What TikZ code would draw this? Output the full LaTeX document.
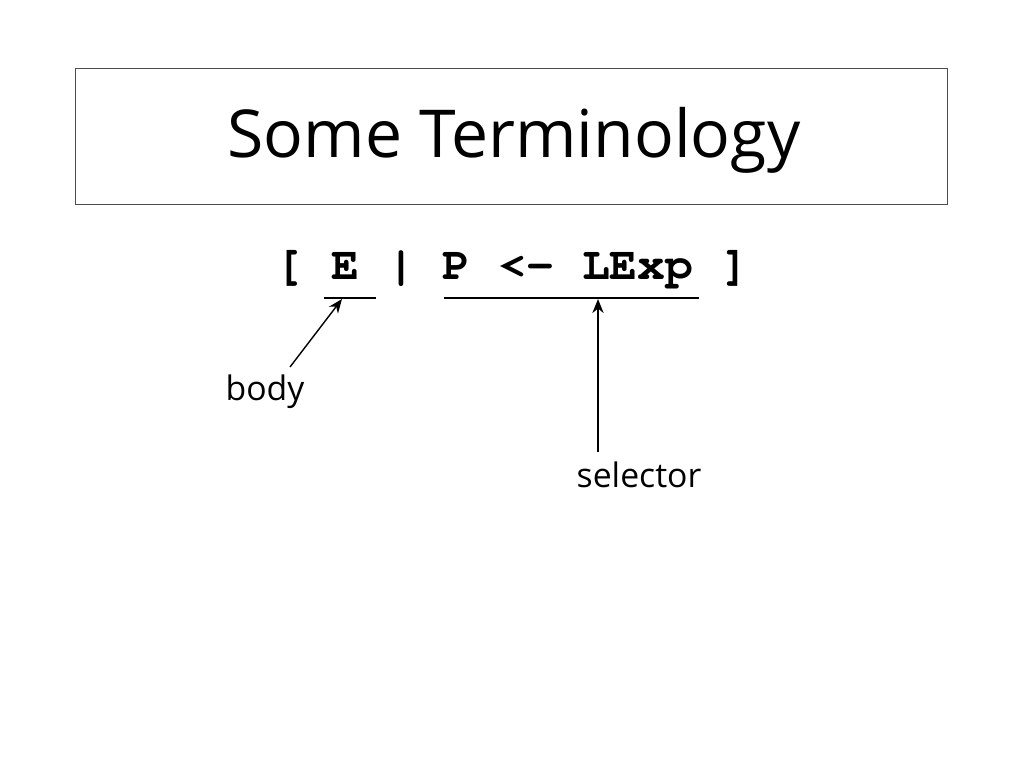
\documentclass[tikz,border=0pt]{standalone}
\usepackage{fontspec}
\setmainfont{Open Sans}
\usetikzlibrary{arrows.meta}
\newcommand{\codefont}{\fontencoding{T1}\fontfamily{pcr}\fontseries{b}\selectfont}

\begin{document}
\begin{tikzpicture}[x=0.025cm, y=-0.025cm]
\useasboundingbox (0,0) rectangle (1024,768);
%\draw[black, thick] (0,0) rectangle (1024,768);
\node [draw=black!70, line width=0.6pt, minimum width=21.775cm, minimum height=3.4cm, inner sep=0] (frame) at (511.5,136) {};
\node [anchor=base] (title) at (514,157) {\fontsize{47}{50}\selectfont Some Terminology};
\node [anchor=base] (code) at (512.5,279) {\codefont\fontsize{33}{36}\selectfont [ E | P <- LExp ]};
\draw [line width=1.4pt] (324,298) -- (376,298);
\draw [line width=1.4pt] (444,298) -- (699,298);
\coordinate (e) at (342,299);
\coordinate (sel) at (598,299);
\node [anchor=base] (body) at (265,400) {\fontsize{24}{28}\selectfont body};
\node [anchor=base] (selector) at (639,487) {\fontsize{24}{28}\selectfont selector};
\draw [line width=1pt, -{Stealth[length=10pt, width=8pt]}] (290,367) -- (e);
\draw [line width=1pt, -{Stealth[length=10pt, width=8pt]}] (598,452) -- (sel);
\end{tikzpicture}
\end{document}
